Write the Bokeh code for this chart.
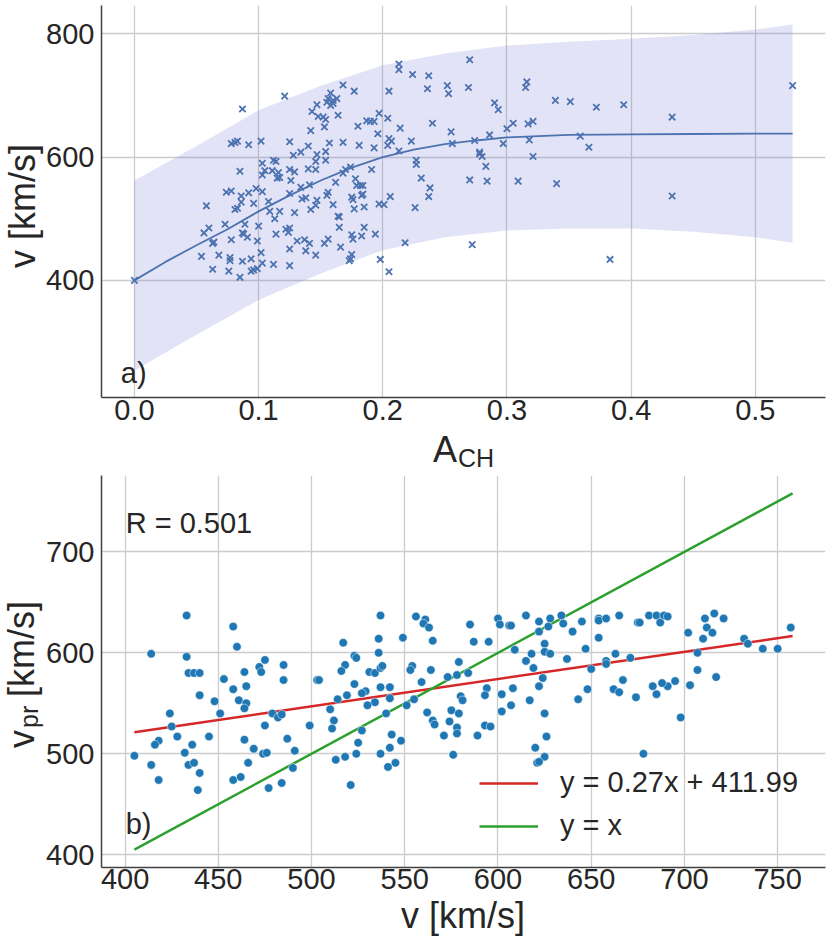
from bokeh.plotting import figure
from bokeh.layouts import column, row
from bokeh.models import Range1d, FixedTicker, PrintfTickFormatter, Label, Legend, LegendItem, Div
from bokeh.embed import file_html
from bokeh.resources import INLINE

FONT = "Liberation Sans"
TXT = "#262626"

# ---------------- panel a) data ----------------
top_a = [0.0,
    0.121, 0.087, 0.143, 0.147, 0.142, 0.078, 0.081, 0.083, 0.092, 0.102, 0.125, 0.140, 0.134, 0.128, 0.147, 0.146,
    0.103, 0.112, 0.114, 0.085, 0.103, 0.105, 0.111, 0.116, 0.115, 0.117, 0.125, 0.129, 0.126, 0.140, 0.146, 0.134,
    0.141, 0.098, 0.103, 0.074, 0.078, 0.092, 0.086, 0.086, 0.096, 0.108, 0.125, 0.135, 0.138, 0.147, 0.146, 0.142,
    0.081, 0.083, 0.058, 0.109, 0.117, 0.129, 0.113, 0.073, 0.089, 0.100, 0.060, 0.056, 0.087, 0.088, 0.091, 0.114,
    0.122, 0.125, 0.124, 0.099, 0.063, 0.064, 0.078, 0.131, 0.137, 0.141, 0.138, 0.125, 0.146, 0.102, 0.054, 0.068,
    0.077, 0.077, 0.087, 0.094, 0.103, 0.112, 0.125, 0.063, 0.076, 0.094, 0.096, 0.099, 0.085,
    0.213, 0.213, 0.224, 0.237, 0.252, 0.253, 0.236, 0.168, 0.177, 0.205, 0.158, 0.156, 0.160, 0.163, 0.155, 0.158,
    0.160, 0.164, 0.152, 0.154, 0.153, 0.148, 0.180, 0.187, 0.190, 0.193, 0.197, 0.204, 0.196, 0.214, 0.240, 0.255,
    0.256, 0.205, 0.207, 0.204, 0.223, 0.213, 0.181, 0.193, 0.168, 0.157, 0.154, 0.154, 0.227, 0.227, 0.191, 0.170,
    0.174, 0.168, 0.162, 0.178, 0.179, 0.182, 0.184, 0.231, 0.238, 0.237, 0.156, 0.155, 0.175, 0.176, 0.183, 0.184,
    0.206, 0.160, 0.177, 0.185, 0.197, 0.201, 0.226, 0.164, 0.165, 0.165, 0.185, 0.175, 0.176, 0.183, 0.194, 0.156,
    0.153, 0.166, 0.175, 0.174, 0.173, 0.218, 0.198, 0.205,
    0.270, 0.269, 0.270, 0.272, 0.274, 0.278, 0.280, 0.278, 0.283, 0.284, 0.286, 0.290, 0.293, 0.297, 0.300, 0.305,
    0.309, 0.315, 0.316, 0.317, 0.321, 0.318, 0.321, 0.339, 0.340, 0.351, 0.359, 0.366, 0.372, 0.383, 0.394, 0.433,
    0.433, 0.530]
top_v = [400,
    699, 678, 674, 685, 643, 622, 624, 626, 620, 626, 625, 618, 608, 603, 604, 593,
    590, 595, 593, 577, 571, 578, 578, 575, 566, 567, 580, 576, 562, 581, 580, 551,
    555, 549, 544, 543, 545, 542, 537, 527, 525, 528, 541, 532, 534, 530, 522, 515,
    515, 517, 521, 512, 512, 510, 500, 491, 491, 488, 485, 477, 477, 475, 470, 475,
    483, 485, 478, 464, 460, 462, 466, 464, 466, 460, 448, 451, 441, 445, 439, 441,
    437, 432, 431, 435, 428, 426, 424, 418, 415, 415, 417, 419, 405,
    751, 742, 734, 732, 716, 703, 711, 717, 707, 707, 704, 695, 692, 695, 689, 684,
    687, 668, 665, 661, 649, 666, 650, 659, 658, 658, 671, 663, 638, 647, 655, 641,
    622, 630, 626, 619, 626, 610, 619, 615, 624, 623, 609, 595, 595, 588, 580, 580,
    584, 574, 559, 565, 554, 554, 554, 566, 550, 536, 543, 538, 535, 531, 538, 540,
    536, 523, 516, 519, 524, 523, 518, 504, 503, 486, 486, 474, 467, 472, 475, 467,
    460, 454, 442, 435, 432, 461, 434, 414,
    758, 713, 563, 458, 627, 608, 601, 605, 585, 561, 636, 688, 677, 622, 646, 655,
    561, 713, 722, 654, 658, 628, 601, 692, 557, 690, 634, 616, 681, 434, 685, 665,
    537, 716]

curve_a = [0.0, 0.025, 0.05, 0.075, 0.1, 0.125, 0.15, 0.175, 0.2, 0.225, 0.25, 0.275, 0.3, 0.35, 0.4, 0.45, 0.5, 0.53]
curve_v = [400, 430, 457, 483, 512, 538, 562, 583, 600, 612, 621, 627, 632, 636, 637, 637.5, 638, 638]

band_a = [0.0, 0.05, 0.1, 0.15, 0.2, 0.25, 0.3, 0.35, 0.4, 0.45, 0.5, 0.53]
band_lo = [254, 312, 368, 411, 449, 470, 481, 484, 484, 479, 470, 461]
band_hi = [562, 618, 676, 716, 749, 768, 781, 787, 792, 798, 807, 815]

# ---------------- panel b) data ----------------
bot_v = [433, 458, 414, 460, 433, 434, 437, 440,
    475, 472, 473, 464, 485, 485, 453, 458, 465,
    440, 448, 461, 465, 464, 451, 479, 482, 484,
    424, 425, 475, 428, 445, 418, 416, 436, 464, 469, 487,
    405, 432, 474, 476, 414, 434, 437, 466, 440, 418, 458, 462, 439, 477, 484,
    537, 556, 561, 560, 563, 565, 549, 536, 517, 536,
    523, 524, 518, 516, 531, 534, 537, 538, 554, 553, 564, 579,
    578, 573, 559, 503, 504, 523, 537, 542, 529, 527, 519, 514, 542,
    534, 530, 551, 555, 580, 581, 510, 540, 562, 575, 579,
    512, 511, 499, 527, 565, 566, 574, 578, 578, 571, 543, 548, 525, 542,
    491, 524, 537, 576, 518, 513, 545, 541, 490, 521,
    600, 601, 606, 607, 615, 622, 628, 634, 635, 627, 622, 640, 645,
    654, 654, 658, 665, 675, 585, 587, 595, 654, 625, 609, 647,
    618, 625, 628, 663, 615, 637, 671, 658, 658, 619, 650,
    584, 624, 622, 667, 662, 665, 648, 608, 594, 593, 602,
    617, 643, 674, 607, 602, 625, 593, 596, 589, 626, 620, 625, 621, 622,
    676, 681, 685, 687, 689, 691, 702, 711, 716, 721, 712, 715, 710,
    732, 734, 742, 750, 757, 707, 707, 717,
    695, 691, 688, 683, 685, 703, 698, 678]
bot_vpr = [637, 626, 599, 606, 596, 580, 580, 580,
    593, 586, 581, 581, 588, 573, 574, 564, 567,
    558, 552, 553, 550, 545, 540, 540, 536, 539,
    540, 527, 528, 517, 517, 513, 509, 509, 514, 505, 515,
    498, 501, 500, 501, 489, 489, 491, 491, 481, 474, 474, 477, 464, 466, 471,
    637, 636, 633, 629, 625, 612, 615, 614, 610, 600,
    597, 595, 588, 582, 581, 580, 585, 587, 587, 583, 583, 591,
    578, 576, 571, 573, 573, 569, 566, 566, 562, 560, 558, 554, 555,
    551, 548, 548, 554, 557, 553, 544, 540, 541, 543, 540,
    533, 525, 528, 523, 533, 529, 532, 526, 520, 518, 519, 513, 511, 506,
    503, 500, 500, 499, 497, 494, 491, 487, 486, 469,
    634, 628, 627, 627, 637, 631, 634, 637, 629, 626, 621, 621, 631,
    634, 632, 634, 637, 630, 628, 611, 611, 615, 609, 603, 604,
    599, 601, 599, 599, 592, 594, 595, 592, 589, 585, 584,
    580, 575, 567, 573, 564, 561, 564, 565, 565, 558, 559,
    553, 554, 556, 548, 542, 540, 528, 527, 518, 517, 506, 497, 491, 492,
    630, 637, 637, 630, 637, 636, 620, 634, 639, 634, 625, 620, 614,
    614, 609, 604, 604, 625, 600, 583, 576,
    572, 567, 570, 567, 559, 568, 536, 500]

fit_x = [405, 758]
fit_y = [521.3, 616.7]
ident_x = [405, 758]
ident_y = [405, 758]

x_ticks_a = [0.0, 0.1, 0.2, 0.3, 0.4, 0.5]
y_ticks_a = [400, 600, 800]
x_ticks_b = [400, 450, 500, 550, 600, 650, 700, 750]
y_ticks_b = [400, 500, 600, 700]

YLAB_W = 43      # width of the strip holding the rotated y titles
PLOT_W = 786     # so that each frame spans page x 101..825


def style(p, xt, yt, xst):
    p.xaxis.ticker = FixedTicker(ticks=xt)
    p.yaxis.ticker = FixedTicker(ticks=yt)
    for ax, st in ((p.xaxis[0], xst), (p.yaxis[0], 7)):
        ax.major_label_text_font = FONT
        ax.major_label_text_font_size = "29px"
        ax.major_label_text_color = TXT
        ax.major_tick_line_color = None
        ax.minor_tick_line_color = None
        ax.major_tick_out = 0
        ax.major_tick_in = 0
        ax.minor_tick_out = 0
        ax.minor_tick_in = 0
        ax.axis_line_color = "#404040"
        ax.axis_line_width = 1.5
        ax.major_label_standoff = st
    p.grid.grid_line_color = "#cccccc"
    p.grid.grid_line_width = 1.3
    p.outline_line_color = None
    p.background_fill_color = "white"
    p.border_fill_color = "white"


def lab(p, x, y, text, size):
    p.add_layout(Label(x=x, y=y, text=text, text_font=FONT, text_font_size=size,
                       text_color=TXT, text_align="left", text_baseline="alphabetic"))


def span(left, top, size, lh, text, rotate=False):
    rot = "transform-origin:0 0;transform:rotate(-90deg);" if rotate else ""
    return ('<span style="position:absolute;left:%spx;top:%spx;font-size:%spx;line-height:%spx;'
            'white-space:nowrap;%s">%s</span>' % (left, top, size, lh, rot, text))


def text_div(w, h, spans):
    html = ('<div style="position:relative;width:%dpx;height:%dpx;font-family:\'Liberation Sans\';color:#262626;">'
            % (w, h)) + "".join(spans) + '</div>'
    return Div(text=html, width=w, height=h, styles={"margin": "0px", "padding": "0px"})


# ---------------- top figure (page y 0..432, frame 5..397) ----------------
p1 = figure(width=PLOT_W, height=432, x_range=Range1d(-0.0265, 0.5565), y_range=Range1d(210, 846), title=None,
            output_backend="svg", toolbar_location=None,
            min_border_left=58, min_border_right=4, min_border_top=5, min_border_bottom=35)
style(p1, x_ticks_a, y_ticks_a, 2)
p1.xaxis[0].formatter = PrintfTickFormatter(format="%.1f")
p1.varea(x=band_a, y1=band_lo, y2=band_hi, fill_color="#7373d7", fill_alpha=0.2)
p1.line(curve_a, curve_v, line_color="#4C72B0", line_width=1.8)
p1.scatter(top_a, top_v, marker="x", size=9, line_color="#4C72B0", line_width=1.8)
lab(p1, -0.011, 250, "a)", "29px")

# rotated y title of panel a): baseline at page x 35, text from page y 268 upward
ylab1 = text_div(YLAB_W, 432, [span(9.5, 268, 36, 26, "v [km/s]", rotate=True)])

# x-axis title of panel a): A with subscript CH (page y 432..475)
xlab1 = text_div(829, 43, [span(433, 4.5, 36, 26, "A"), span(458, 17, 25, 18, "CH")])

# ---------------- bottom figure (page y 475..901, frame 475..867) ----------------
p2 = figure(width=PLOT_W, height=426, x_range=Range1d(387.35, 775.65), y_range=Range1d(387.35, 775.65), title=None,
            output_backend="svg", toolbar_location=None,
            min_border_left=58, min_border_right=4, min_border_top=0, min_border_bottom=34)
style(p2, x_ticks_b, y_ticks_b, 1)
r_fit = p2.line(fit_x, fit_y, line_color="#d62728", line_width=2.5)
r_id = p2.line(ident_x, ident_y, line_color="#2ca02c", line_width=2.5)
p2.scatter(bot_v, bot_vpr, marker="circle", size=8.5, fill_color="#1f77b4", line_color="white", line_width=0.5)
lab(p2, 400.3, 729, "R = 0.501", "29px")
lab(p2, 400.3, 430, "b)", "29px")

leg = Legend(items=[LegendItem(label="y = 0.27x + 411.99", renderers=[r_fit]),
                    LegendItem(label="y = x", renderers=[r_id])],
             location=(378, 25), padding=0, margin=0, spacing=10,
             glyph_width=59, glyph_height=20, label_standoff=22,
             label_text_font=FONT, label_text_font_size="29px", label_text_color=TXT,
             border_line_alpha=0, background_fill_alpha=0)
p2.add_layout(leg)

# rotated y title of panel b): v, subscript pr, [km/s]  (div top at page y 475)
ylab2 = text_div(YLAB_W, 426, [span(8.5, 273, 36, 26, "v", rotate=True),
                               span(20.3, 253, 25, 18, "pr", rotate=True),
                               span(8.5, 222, 36, 26, "[km/s]", rotate=True)])

# x-axis title of panel b) (page y 901..941)
xlab2 = text_div(829, 40, [span(401, 1.5, 36, 26, "v [km/s]")])

layout = column(row(ylab1, p1), xlab1, row(ylab2, p2), xlab2)
open("out.html", "w").write(file_html(layout, INLINE))
